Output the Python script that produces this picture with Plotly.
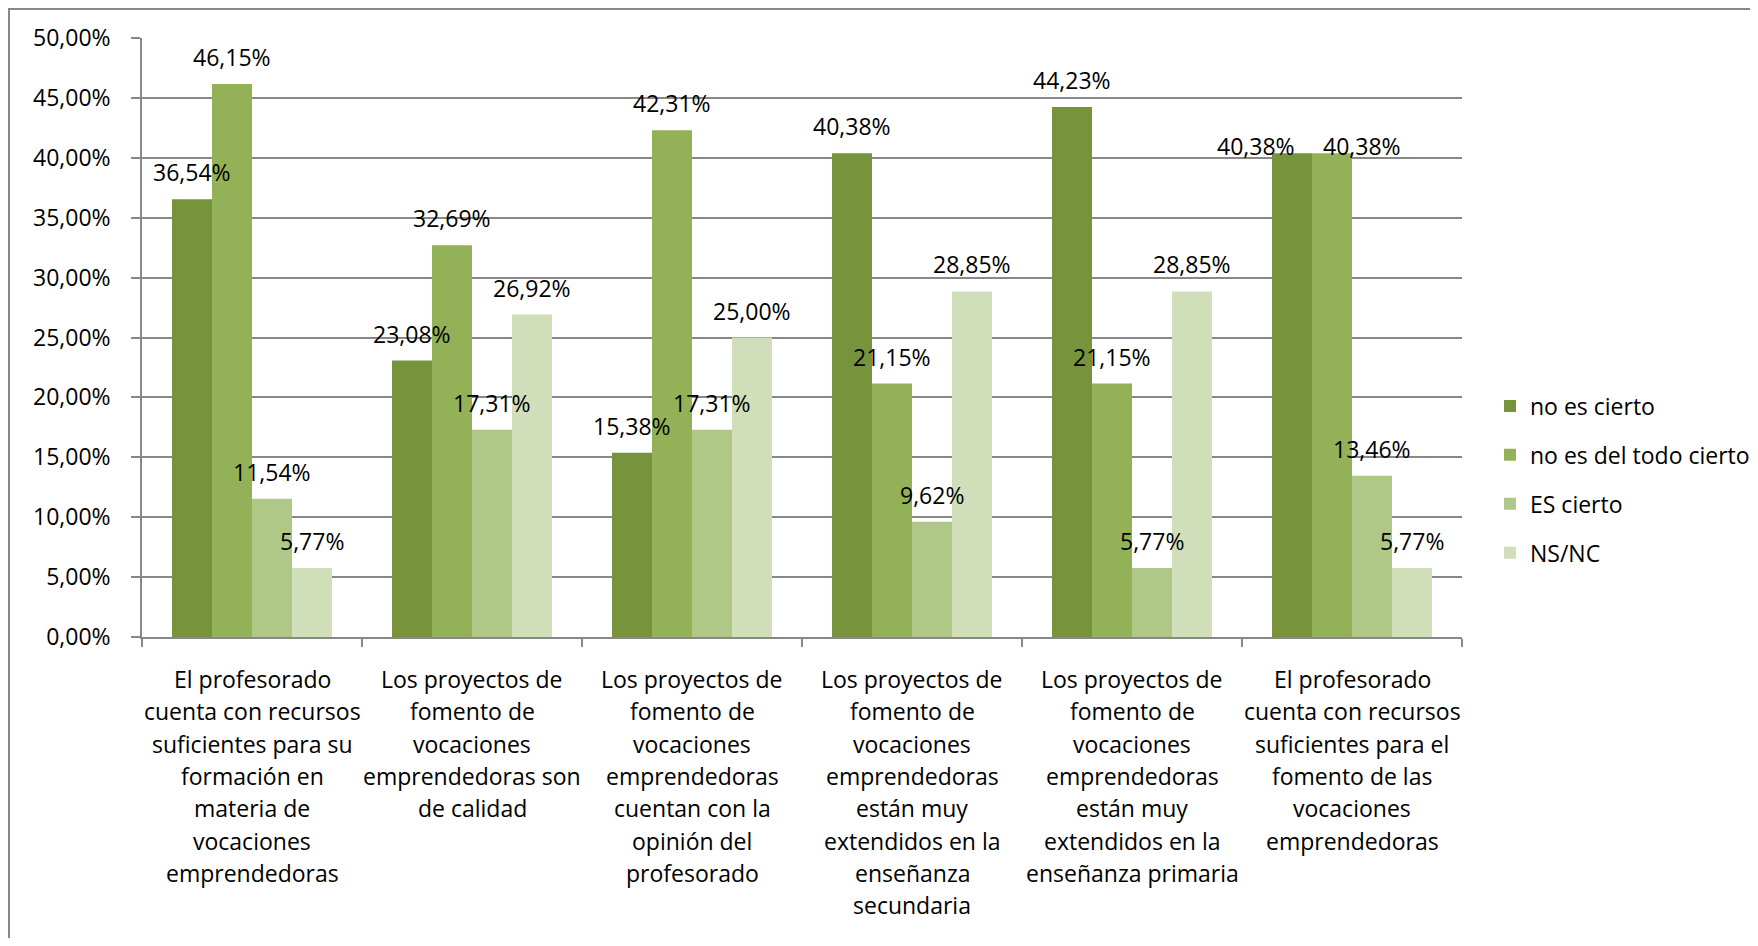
import plotly.graph_objects as go

categories = [
    "El profesorado<br>cuenta con recursos<br>suficientes para su<br>formación en<br>materia de<br>vocaciones<br>emprendedoras",
    "Los proyectos de<br>fomento de<br>vocaciones<br>emprendedoras son<br>de calidad",
    "Los proyectos de<br>fomento de<br>vocaciones<br>emprendedoras<br>cuentan con la<br>opinión del<br>profesorado",
    "Los proyectos de<br>fomento de<br>vocaciones<br>emprendedoras<br>están muy<br>extendidos en la<br>enseñanza<br>secundaria",
    "Los proyectos de<br>fomento de<br>vocaciones<br>emprendedoras<br>están muy<br>extendidos en la<br>enseñanza primaria",
    "El profesorado<br>cuenta con recursos<br>suficientes para el<br>fomento de las<br>vocaciones<br>emprendedoras",
]

series_names = ["no es cierto", "no es del todo cierto", "ES cierto", "NS/NC"]
no_es_cierto = [36.54, 23.08, 15.38, 40.38, 44.23, 40.38]
no_es_del_todo_cierto = [46.15, 32.69, 42.31, 21.15, 21.15, 40.38]
es_cierto = [11.54, 17.31, 17.31, 9.62, 5.77, 13.46]
ns_nc = [5.77, 26.92, 25.00, 28.85, 28.85, 5.77]
series_values = [no_es_cierto, no_es_del_todo_cierto, es_cierto, ns_nc]

y_tickvals = [0, 5, 10, 15, 20, 25, 30, 35, 40, 45, 50]
y_ticktext = ["0,00%", "5,00%", "10,00%", "15,00%", "20,00%", "25,00%",
              "30,00%", "35,00%", "40,00%", "45,00%", "50,00%"]

# styling
colors = ["#77933C", "#93B156", "#AFC787", "#D1DEBA"]
FONT = "Open Sans"
FS = 23
BARGAP = 0.2727
GRID = "#888888"
# manual label nudges (series index, category index) -> (xshift, yshift)
label_nudge = {(0, 5): (-36, 7), (1, 5): (30, 7)}

# the page body has an 8px margin, so the figure is sized to fit inside it
OFF = 8
W, H = 1758 - 2 * OFF, 946 - 2 * OFF
ML = 142 - OFF
MT = 38 - OFF
MR = W - (1462 - OFF)
MB = H - (637 - OFF)
plot_w = W - ML - MR
plot_h = H - MT - MB

fig = go.Figure()
for name, vals, col in zip(series_names, series_values, colors):
    fig.add_trace(go.Bar(
        name=name, x=categories, y=vals, marker_color=col,
        marker_line_width=0, legendgroup=name,
    ))

annotations = []
w = (1 - BARGAP) / len(series_values)
for si, vals in enumerate(series_values):
    for ci, v in enumerate(vals):
        dx, dy = label_nudge.get((si, ci), (0, 27))
        annotations.append(dict(
            x=ci + (si - (len(series_values) - 1) / 2) * w, y=v,
            xref="x", yref="y", text=f"{v:.2f}".replace(".", ",") + "%",
            showarrow=False, yanchor="middle", xanchor="center",
            xshift=dx, yshift=dy,
            font=dict(family=FONT, size=FS, color="black"),
        ))

for ci, cat in enumerate(categories):
    for li, line in enumerate(cat.split("<br>")):
        annotations.append(dict(
            x=ci, y=0, xref="x", yref="y", text=line, showarrow=False,
            yanchor="middle", xanchor="center", yshift=-(42 + 32.3 * li),
            font=dict(family=FONT, size=FS, color="black"),
        ))

legend_center_y = 479.5 - OFF
fig.update_layout(
    width=W, height=H,
    margin=dict(l=ML, r=MR, t=MT, b=MB, pad=0, autoexpand=False),
    paper_bgcolor="white", plot_bgcolor="white",
    barmode="group", bargap=BARGAP, bargroupgap=0,
    font=dict(family=FONT, size=FS, color="black"),
    showlegend=True,
    legend=dict(
        x=(1490 - OFF - ML) / plot_w, y=(H - MB - legend_center_y) / plot_h,
        xanchor="left", yanchor="middle",
        font=dict(family=FONT, size=FS, color="black"),
        tracegroupgap=16, bgcolor="rgba(0,0,0,0)",
    ),
    xaxis=dict(
        type="category", showticklabels=False, ticks="outside",
        tickson="boundaries", ticklen=8, tickcolor=GRID, tickwidth=1.5,
        showline=True, linecolor=GRID, linewidth=1.5, showgrid=False,
        range=[-0.5, 5.5], automargin=False,
    ),
    yaxis=dict(
        range=[0, 50], tickvals=y_tickvals, ticktext=y_ticktext,
        ticks="outside", ticklen=9, tickcolor=GRID, tickwidth=1.5,
        showline=True, linecolor=GRID, linewidth=1.5,
        showgrid=True, gridcolor=GRID, gridwidth=1.5, zeroline=False,
        ticklabelstandoff=16, automargin=False,
        tickfont=dict(family=FONT, size=FS, color="black"),
    ),
    annotations=annotations,
    shapes=[dict(
        type="rect", xref="paper", yref="paper",
        x0=(1 - ML) / plot_w, x1=(W + 20 - ML) / plot_w,
        y0=(H - MB - (H + 20)) / plot_h, y1=(H - MB - 1) / plot_h,
        line=dict(color=GRID, width=2), fillcolor="rgba(0,0,0,0)",
        layer="below",
    )],
)

fig.write_html("out.html")
